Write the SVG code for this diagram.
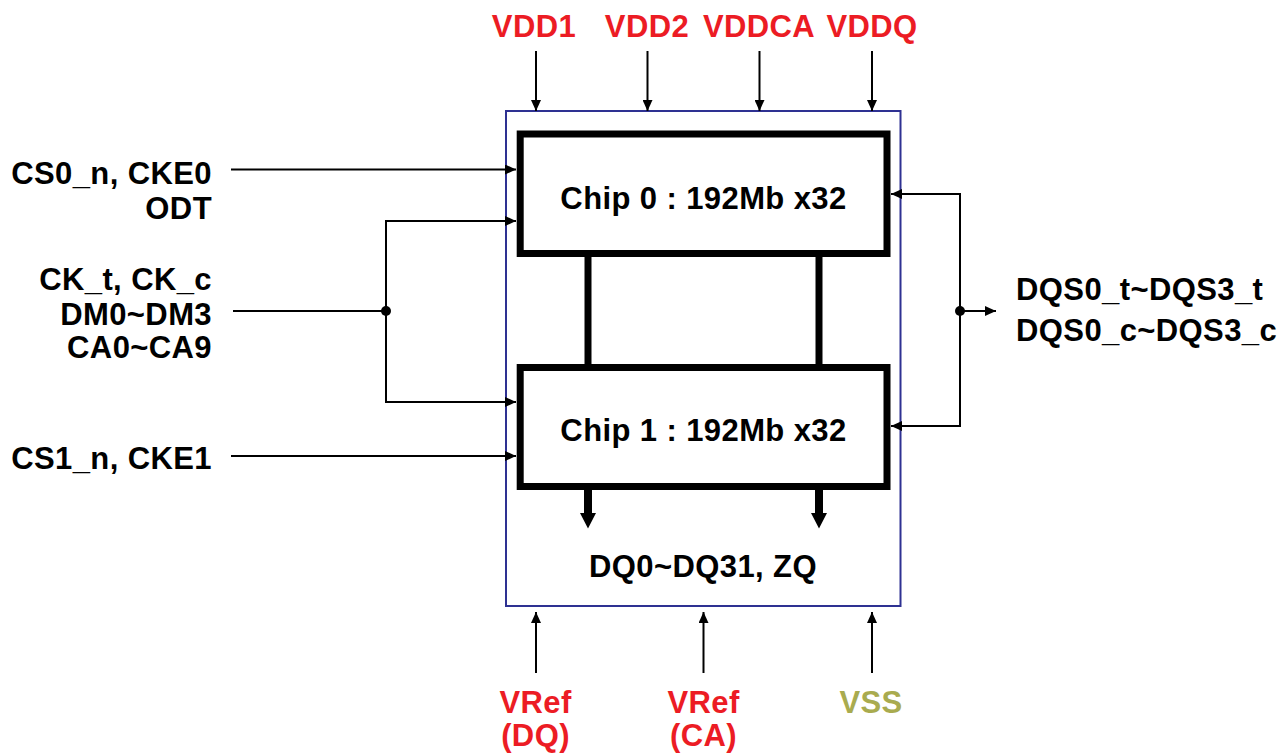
<svg xmlns="http://www.w3.org/2000/svg" width="1281" height="755" viewBox="0 0 1281 755">
<defs>
<style>
.t{font-family:"Liberation Sans",Arial,sans-serif;font-weight:bold;font-size:31px;letter-spacing:0.4px;fill:#000}
.red{fill:#EC1C24}
.olive{fill:#A9AB4F}
.w{fill:none;stroke:#000;stroke-width:2}
.chip{fill:#fff;stroke:#000;stroke-width:7}
.bar{fill:none;stroke:#000;stroke-width:7}
</style>
<marker id="ah" markerUnits="userSpaceOnUse" markerWidth="12" markerHeight="10" refX="11" refY="5" orient="auto">
<path d="M0,0 L11,5 L0,10 z" fill="#000"/>
</marker>
</defs>
<rect width="1281" height="755" fill="#fff"/>
<g id="package">
<rect x="506" y="111" width="394.5" height="495" fill="#fff" stroke="#2E3192" stroke-width="2"/>
</g>
<g id="connectors">
<line class="w" x1="536" y1="51" x2="536" y2="111" marker-end="url(#ah)"/>
<line class="w" x1="647.5" y1="51" x2="647.5" y2="111" marker-end="url(#ah)"/>
<line class="w" x1="759.5" y1="51" x2="759.5" y2="111" marker-end="url(#ah)"/>
<line class="w" x1="872" y1="51" x2="872" y2="111" marker-end="url(#ah)"/>
<line class="w" x1="536" y1="673" x2="536" y2="612" marker-end="url(#ah)"/>
<line class="w" x1="703.5" y1="673" x2="703.5" y2="612" marker-end="url(#ah)"/>
<line class="w" x1="872" y1="673" x2="872" y2="612" marker-end="url(#ah)"/>
<line class="w" x1="231" y1="169.5" x2="516" y2="169.5" marker-end="url(#ah)"/>
<line class="w" x1="231" y1="456" x2="516" y2="456" marker-end="url(#ah)"/>
<line class="w" x1="233" y1="311" x2="386" y2="311"/>
<polyline class="w" points="386,311 386,221 516,221" marker-end="url(#ah)"/>
<polyline class="w" points="386,311 386,402 516,402" marker-end="url(#ah)"/>
<circle cx="386" cy="311" r="5" fill="#000"/>
<polyline class="w" points="960,311 960,194 891,194" marker-end="url(#ah)"/>
<polyline class="w" points="960,311 960,426 891,426" marker-end="url(#ah)"/>
<line class="w" x1="960" y1="311" x2="996" y2="311" marker-end="url(#ah)"/>
<circle cx="960" cy="311" r="5" fill="#000"/>
<line class="bar" x1="588" y1="257" x2="588" y2="364"/>
<line class="bar" x1="819" y1="257" x2="819" y2="364"/>
<path d="M584,489 H592 V513 H596 L588,528.5 L580,513 H584 Z" fill="#000"/>
<path d="M815,489 H823 V513 H827 L819,528.5 L811,513 H815 Z" fill="#000"/>
</g>
<g id="chip0">
<rect class="chip" x="520.2" y="134" width="366.8" height="119.5"/>
<text class="t" x="703.5" y="208.5" text-anchor="middle">Chip 0 : 192Mb x32</text>
</g>
<g id="chip1">
<rect class="chip" x="520.2" y="367.5" width="366.8" height="119"/>
<text class="t" x="703.5" y="441" text-anchor="middle">Chip 1 : 192Mb x32</text>
</g>
<g id="dq-label">
<text class="t" x="703" y="577" text-anchor="middle">DQ0~DQ31, ZQ</text>
</g>
<g id="power-labels">
<text class="t red" x="534" y="37" text-anchor="middle">VDD1</text>
<text class="t red" x="647" y="37" text-anchor="middle">VDD2</text>
<text class="t red" x="759" y="37" text-anchor="middle">VDDCA</text>
<text class="t red" x="872" y="37" text-anchor="middle">VDDQ</text>
<text class="t red" x="535.5" y="713" text-anchor="middle">VRef</text>
<text class="t red" x="535.5" y="746" text-anchor="middle">(DQ)</text>
<text class="t red" x="703.5" y="713" text-anchor="middle">VRef</text>
<text class="t red" x="703.5" y="746" text-anchor="middle">(CA)</text>
<text class="t olive" x="871" y="713" text-anchor="middle">VSS</text>
</g>
<g id="left-labels">
<text class="t" x="212" y="184" text-anchor="end">CS0_n, CKE0</text>
<text class="t" x="212" y="219" text-anchor="end">ODT</text>
<text class="t" x="212" y="290" text-anchor="end">CK_t, CK_c</text>
<text class="t" x="212" y="325" text-anchor="end">DM0~DM3</text>
<text class="t" x="212" y="358" text-anchor="end">CA0~CA9</text>
<text class="t" x="212" y="469" text-anchor="end">CS1_n, CKE1</text>
</g>
<g id="right-labels">
<text class="t" x="1016" y="300">DQS0_t~DQS3_t</text>
<text class="t" x="1016" y="341">DQS0_c~DQS3_c</text>
</g>
</svg>
